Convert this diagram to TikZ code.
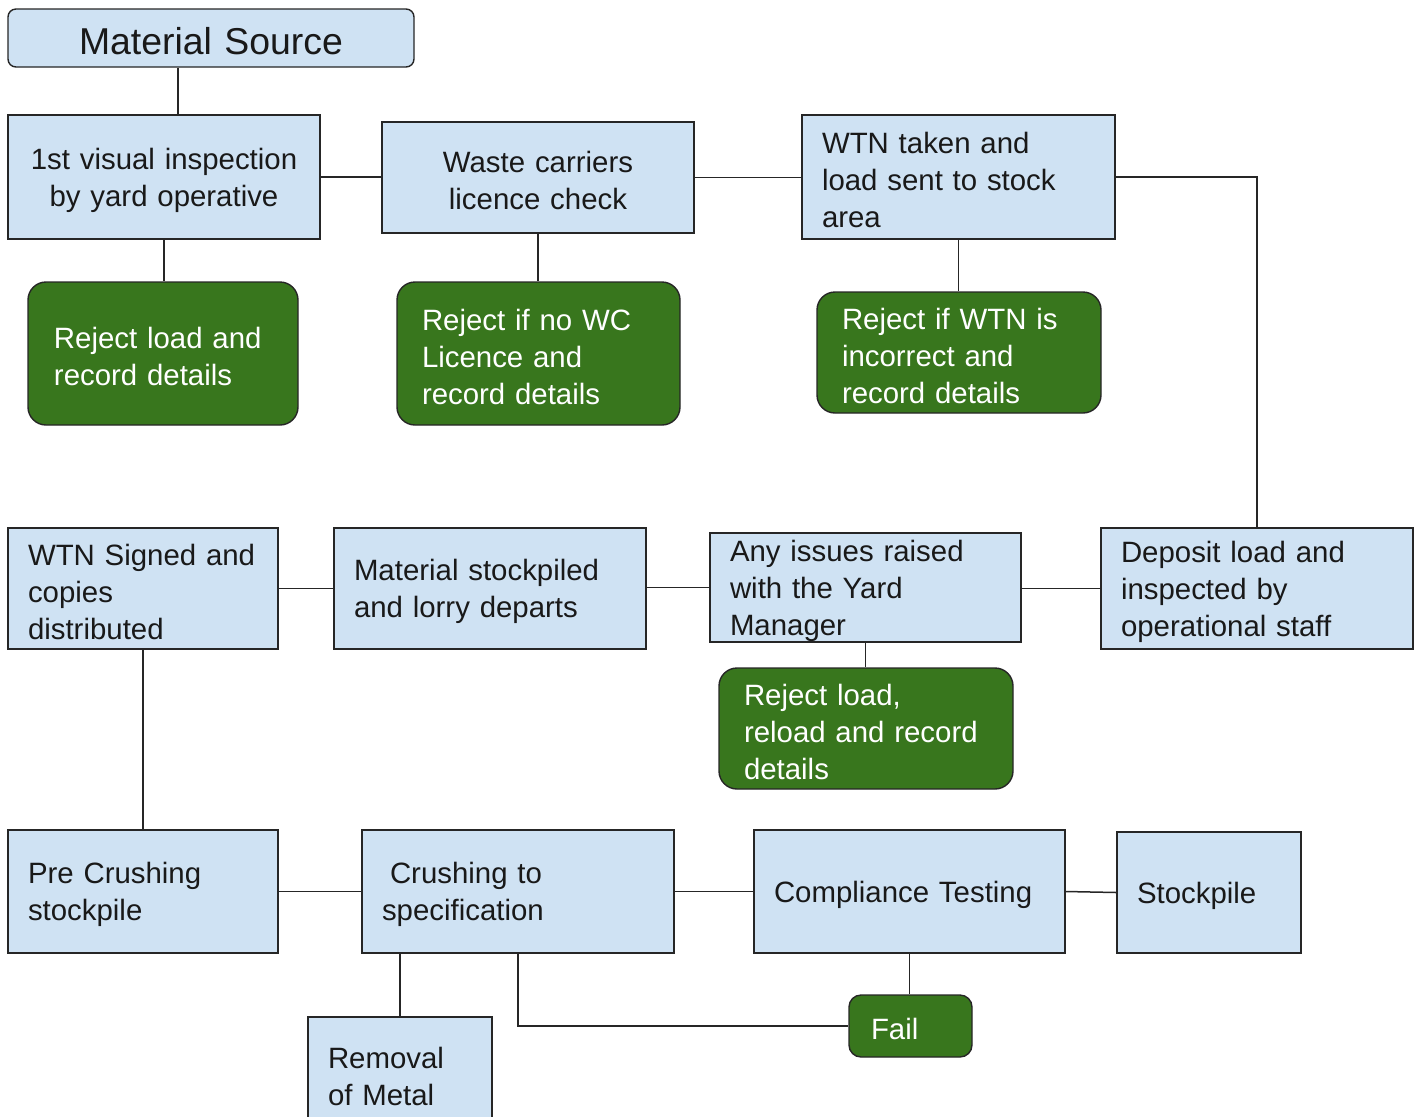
\documentclass[tikz,border=0pt]{standalone}
\usepackage{fontspec}
\setmainfont{Liberation Sans}
\definecolor{lb}{HTML}{CFE2F3}
\definecolor{gr}{HTML}{38761D}
\newcommand\bx[8][10]{%
 \pgfmathsetmacro\bxw{(#6-#4)*0.5}%
 \pgfmathsetmacro\bxh{(#7-#5)*0.5}%
 \pgfmathsetmacro\bxt{\bxw-2*#1}%
 \node[#3, inner xsep=#1pt, minimum width=\bxw pt, minimum height=\bxh pt, text width=\bxt pt] (#2) at ({(#4+#6)/2},{(#5+#7)/2}) {};%
 \node[#3, draw=none, fill=none, inner xsep=#1pt, text width=\bxt pt] (#2t) at ([yshift=-1.5pt]#2.center) {#8};%
}
\tikzset{
 base/.style={draw=black!85, line width=0.7pt, inner ysep=0pt, font=\fontsize{14.7}{18.5}\selectfont},
 blue/.style={base, fill=lb, text=black!90},
 green/.style={base, fill=gr, text=white, rounded corners=9pt},
 L/.style={align=left},
 C/.style={align=center},
 conn/.style={draw=black!85, line width=0.75pt}
}
\begin{document}
\begin{tikzpicture}[x=0.5pt,y=-0.5pt]
\useasboundingbox (0,0) rectangle (1421,1116);
\coordinate (k1) at (178,0);
% row 1
\bx{ms}{blue,C,rounded corners=4pt,font=\fontsize{18.7}{22}\selectfont}{8}{9}{414}{67}{Material Source}
\bx{v1}{blue,C}{8}{115}{320}{239}{1st visual inspection\\by yard operative}
\bx{wc}{blue,C}{382}{122}{694}{233}{Waste carriers\\licence check}
\bx{wtn}{blue,L}{802}{115}{1115}{239}{WTN taken and\\load sent to stock\\area}
% rejects
\bx[13]{r1}{green,L}{28}{282}{298}{425}{Reject load and\\record details}
\bx[12.5]{r2}{green,L}{397}{282}{680}{425}{Reject if no WC\\Licence and\\record details}
\bx[12.5]{r3}{green,L}{817}{292}{1101}{413}{Reject if WTN is\\incorrect and\\record details}
% row 2
\bx{ws}{blue,L}{8}{528}{278}{649}{WTN Signed and\\copies\\distributed}
\bx{mst}{blue,L}{334}{528}{646}{649}{Material stockpiled\\and lorry departs}
\bx{ai}{blue,L}{710}{533}{1021}{642}{Any issues raised\\with the Yard\\Manager}
\bx{dep}{blue,L}{1101}{528}{1413}{649}{Deposit load and\\inspected by\\operational staff}
\bx[12.5]{rr}{green,L}{719}{668}{1013}{789}{Reject load,\\reload and record\\details}
% row 3
\bx{pc}{blue,L}{8}{830}{278}{953}{Pre Crushing\\stockpile}
\bx{cr}{blue,L}{362}{830}{674}{953}{\hspace*{4pt}Crushing to\\specification}
\bx{ct}{blue,L}{754}{830}{1065}{953}{Compliance Testing}
\bx{sp}{blue,L}{1117}{832}{1301}{953}{Stockpile}
\bx[11]{fail}{green,L,rounded corners=6pt}{849}{995}{972}{1057}{Fail}
\bx{rm}{blue,L}{308}{1017}{492}{1130}{Removal\\of Metal}
% connectors
\draw[conn] (ms.south -| k1) -- (v1.north -| k1);
\draw[conn] (v1.east) -- (v1.east -| wc.west);
\draw[conn] (wc.east) -- (wc.east -| wtn.west);
\draw[conn] (v1.south) -- (v1.south |- r1.north);
\draw[conn] (wc.south) -- (wc.south |- r2.north);
\draw[conn] (wtn.south) -- (wtn.south |- r3.north);
\draw[conn] (wtn.east) -- (dep.north |- wtn.east) -- (dep.north);
\draw[conn] (dep.west) -- (dep.west -| ai.east);
\draw[conn] (ai.west) -- (ai.west -| mst.east);
\draw[conn] (mst.west) -- (mst.west -| ws.east);
\draw[conn] (ws.south) -- (ws.south |- pc.north);
\draw[conn] (ai.south) -- (ai.south |- rr.north);
\draw[conn] (pc.east) -- (pc.east -| cr.west);
\draw[conn] (cr.east) -- (cr.east -| ct.west);
\draw[conn] (ct.east) -- (sp.west);
\draw[conn] (ct.south) -- (ct.south |- fail.north);
\draw[conn] (cr.south) -- (cr.south |- fail.west) -- (fail.west);
\draw[conn] (rm.north |- cr.south) -- (rm.north);
\end{tikzpicture}
\end{document}
